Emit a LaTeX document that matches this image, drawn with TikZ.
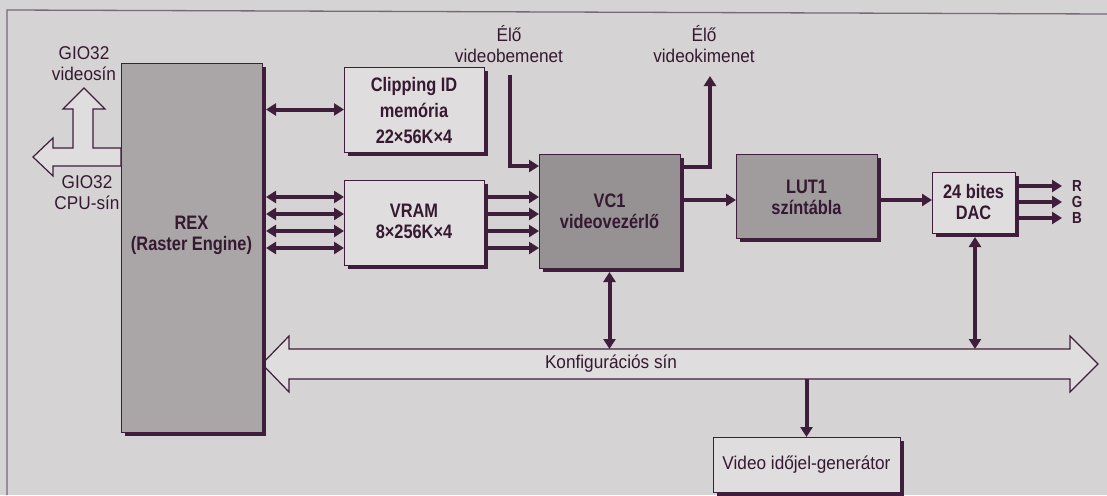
\documentclass[tikz,border=0pt]{standalone}
\usepackage{fontspec}
\setmainfont{Liberation Sans}
\newfontfamily\condbold[FakeStretch=0.84]{Liberation Sans}
\newfontfamily\condreg[FakeStretch=0.93]{Liberation Sans}
\usetikzlibrary{arrows.meta,calc,shadows}
\definecolor{bg}{RGB}{214,211,212}
\definecolor{light}{RGB}{224,221,222}
\definecolor{rexfill}{RGB}{170,166,168}
\definecolor{vcfill}{RGB}{150,146,148}
\definecolor{lutfill}{RGB}{160,156,158}
\definecolor{ink}{RGB}{62,30,58}
\definecolor{framecol}{RGB}{120,105,118}
\tikzset{
  shadowed/.style={drop shadow={shadow xshift=4pt,shadow yshift=-4pt,fill=ink,opacity=1}},
  boxbase/.style={draw=ink,line width=1pt,inner sep=0pt,outer sep=0pt,shadowed},
  lightbox/.style={boxbase,fill=light},
  darkbox/.style={boxbase,fill=#1},
  boldtxt/.style={font=\condbold\fontsize{19.5}{20.5}\selectfont\bfseries,text=ink!85!black,align=center,anchor=base,inner sep=0pt},
  regtxt/.style={font=\condreg\fontsize{18.5}{21}\selectfont,text=ink!85!black,align=center,anchor=base,inner sep=0pt},
  conn/.style={draw=ink,line width=4pt},
  arr/.style={conn,-{Triangle[length=10pt,width=12pt]}},
  dbl/.style={conn,{Triangle[length=10pt,width=12pt]}-{Triangle[length=10pt,width=12pt]}},
  hollow/.style={draw=ink,line width=1.2pt,fill=light,line join=miter},
}
\begin{document}
\begin{tikzpicture}[x=1pt,y=-1pt]
\useasboundingbox (0,0) rectangle (1107,495);
\fill[bg] (0,0) rectangle (1107,495);
\draw[framecol,line width=1.3pt] (7,495) -- (7,10) -- (1107,14);

% configuration bus (hollow double arrow)
\filldraw[hollow] (262,364) -- (289,336) -- (289,349) -- (1070,349) -- (1070,336)
  -- (1098,364) -- (1070,392) -- (1070,379) -- (289,379) -- (289,392) -- cycle;
\coordinate (bustop) at (0,349);
\coordinate (busbot) at (0,379);
\node[regtxt,anchor=center] (buslbl) at (611,364) {Konfigurációs sín};

% boxes
\node[darkbox=rexfill,minimum width=141pt,minimum height=369pt] (rex) at (191.5,247.5) {};
\node[lightbox,minimum width=140pt,minimum height=85pt] (clip) at (414,109.5) {};
\node[lightbox,minimum width=140pt,minimum height=85pt] (vram) at (414,222.5) {};
\node[darkbox=vcfill,minimum width=141pt,minimum height=114pt] (vc1) at (609.5,211) {};
\node[darkbox=lutfill,minimum width=141pt,minimum height=84pt] (lut) at (806.5,196) {};
\node[lightbox,minimum width=83pt,minimum height=61pt] (dac) at (973.5,202.5) {};
\node[lightbox,minimum width=187pt,minimum height=55pt] (vgen) at (806.5,464.5) {};

% box texts (anchor base = baseline of the last line)
\node[boldtxt] (rextxt) at (191.5,250) {REX\\(Raster Engine)};
\node[boldtxt,font=\condbold\fontsize{19.5}{26}\selectfont\bfseries] (cliptxt) at (414,143) {Clipping ID\\memória\\22×56K×4};
\node[boldtxt] (vramtxt) at (414,238) {VRAM\\8×256K×4};
\node[boldtxt] (vc1txt) at (609.5,228) {VC1\\videovezérlő};
\node[boldtxt] (luttxt) at (806.5,214) {LUT1\\színtábla};
\node[boldtxt] (dactxt) at (973.5,219) {24 bites\\DAC};
\node[regtxt] (vgentxt) at (806.5,469) {Video időjel-generátor};

% GIO32 hollow arrows
\filldraw[hollow] (121,148) -- (93,148) -- (93,109) -- (105,109) -- (84,88) -- (63,109)
  -- (73,109) -- (73,148) -- (53,148) -- (53,138) -- (33,157) -- (53,176) -- (53,166)
  -- (121,166) -- cycle;
\node[regtxt] (gio1) at (84,81) {GIO32\\videosín};
\node[regtxt] (gio2) at (87,209) {GIO32\\CPU-sín};

% REX <-> memories
\draw[dbl] ($(rex.east |- clip.west)+(4,0)$) -- (clip.west);
\foreach \o in {-25.5,-8.5,8.5,25.5} {
  \draw[dbl] ($(rex.east |- vram.west)+(4,\o)$) -- ($(vram.west)+(0,\o)$);
  \draw[arr] ($(vram.east)+(4,\o)$) -- ($(vc1.west |- vram.west)+(0,\o)$);
}

% live video in / out
\coordinate (inTop) at (510,75);
\coordinate (outTop) at (710,76);
\node[regtxt] (intxt) at (509,63) {Élő\\videobemenet};
\node[regtxt] (outtxt) at (704,63) {Élő\\videokimenet};
\draw[arr] (inTop) |- ($(vc1.north west)+(0,12)$);
\draw[arr] ($(vc1.north east)+(4,13)$) -| (outTop);

% pipeline
\coordinate (lutIn) at ($(lut.north west)+(0,46)$);
\coordinate (dacIn) at ($(lut.north east)+(4,46)$);
\draw[arr] ($(vc1.north east)+(4,46)$) -- (lutIn);
\draw[arr] (dacIn) -- (dac.west |- dacIn);

% RGB outputs
\coordinate (rOut) at (1062,186);
\coordinate (gOut) at (1062,202);
\coordinate (bOut) at (1062,218);
\draw[arr] ($(dac.east |- rOut)+(4,0)$) -- (rOut);
\draw[arr] ($(dac.east |- gOut)+(4,0)$) -- (gOut);
\draw[arr] ($(dac.east |- bOut)+(4,0)$) -- (bOut);
\node[boldtxt,anchor=center,font=\condbold\fontsize{16}{17}\selectfont\bfseries] (rlbl) at (1077,186) {R};
\node[boldtxt,anchor=center,font=\condbold\fontsize{16}{17}\selectfont\bfseries] (glbl) at (1077,202) {G};
\node[boldtxt,anchor=center,font=\condbold\fontsize{16}{17}\selectfont\bfseries] (blbl) at (1077,218) {B};

% bus connections
\draw[dbl] ($(vc1.south)+(0,4)$) -- (vc1.south |- bustop);
\draw[dbl] ($(dac.south)+(1.5,4)$) -- ($(dac.south |- bustop)+(1.5,0)$);
\draw[arr] (vgen.north |- busbot) -- (vgen.north);
\end{tikzpicture}
\end{document}
